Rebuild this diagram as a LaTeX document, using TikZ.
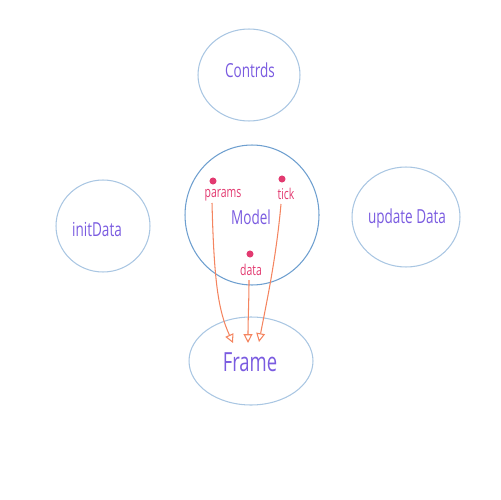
\documentclass[tikz,border=0pt]{standalone}
\usepackage{fontspec}
\setmainfont{Open Sans}
\newfontfamily\hand[FakeStretch=0.7]{Open Sans}
\usetikzlibrary{shapes.geometric,arrows.meta}
\definecolor{lblue}{HTML}{A9C6E2}
\definecolor{mblue}{HTML}{6E9FCF}
\definecolor{purp}{HTML}{7A5BE0}
\definecolor{pink}{HTML}{E23A70}
\definecolor{orng}{HTML}{F4845F}
\tikzset{
  blob/.style={draw=lblue, line width=0.6pt, ellipse, inner sep=0pt},
  lbl/.style={text=purp, font=\hand\fontsize{11}{13}\selectfont, inner sep=0pt},
  pin/.style={text=pink, font=\hand\fontsize{8.5}{10}\selectfont, inner sep=0pt},
  pdot/.style={circle, fill=pink, inner sep=0pt, minimum size=4pt},
  arr/.style={draw=orng, line width=0.6pt, -{Triangle[open, length=5pt, width=5pt]}}
}
\begin{document}
\begin{tikzpicture}[x=0.02cm, y=-0.02cm]
\useasboundingbox (0,0) rectangle (500,500);
\node[blob, minimum width=2.04cm, minimum height=1.84cm] (controls) at (249,75) {};
\node[blob, draw=mblue, minimum width=2.68cm, minimum height=2.80cm] (model) at (252,215) {};
\node[blob, minimum width=2.48cm, minimum height=1.76cm] (frame) at (251,361) {};
\node[blob, minimum width=1.88cm, minimum height=1.84cm] (init) at (103,226) {};
\node[blob, minimum width=2.16cm, minimum height=2.00cm] (update) at (406,217) {};

\node[lbl] (tcontrols) at (250,70) {Contrds};
\node[lbl] (tmodel) at (251,217) {Model};
\node[lbl] (tinit) at (97,230) {initData};
\node[lbl] (tupdate) at (407,218) {update Data};
\node[lbl, font=\hand\fontsize{15}{17}\selectfont] (tframe) at (250,362) {Frame};

\node[pdot] (dparams) at (213,181) {};
\node[pdot] (dtick) at (282,179) {};
\node[pdot] (ddata) at (250,254) {};
\node[pin] (tparams) at (223,195) {params};
\node[pin] (ttick) at (286,194) {tick};
\node[pin] (tdata) at (251,270) {data};

\coordinate (sp) at (212,203);
\coordinate (st) at (281,204);
\coordinate (sd) at (249,280);
\coordinate (ep) at (233,343);
\coordinate (ed) at (248,343);
\coordinate (et) at (259,342);
\draw[arr] (sp) .. controls (214,280) and (218,310) .. (ep);
\draw[arr] (sd) .. controls (249,300) and (248,320) .. (ed);
\draw[arr] (st) .. controls (276,260) and (266,305) .. (et);
\end{tikzpicture}
\end{document}
